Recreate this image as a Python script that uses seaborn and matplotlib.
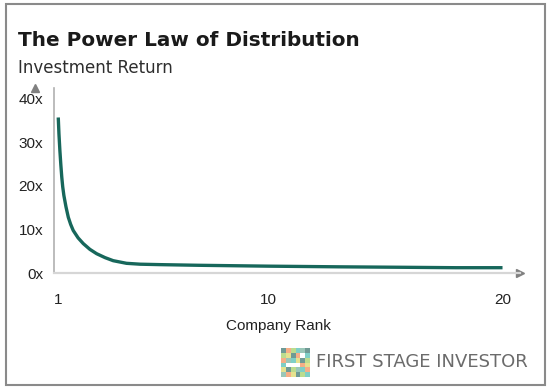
"""
The Power Law of Distribution: investment return by company rank.
"""

import numpy as np
import pandas as pd
import matplotlib
matplotlib.use("Agg")
import matplotlib.pyplot as plt
from matplotlib.patches import Rectangle
import seaborn as sns

# ═══════════════════════════════════════════════════════════════════════
# Data
# ═══════════════════════════════════════════════════════════════════════

company_rank = [1.0, 1.03, 1.07, 1.11, 1.15, 1.19, 1.24, 1.33, 1.43, 1.53, 1.64,
                1.85, 2.07, 2.35, 2.64, 3.0, 3.35, 3.92, 4.5, 5.35, 7.0, 10.0,
                13.0, 15.6, 18.0, 20.0]
investment_return = [35.6, 31.8, 28.0, 24.8, 22.0, 19.8, 17.8, 15.2, 12.8, 11.2, 9.8,
                     8.1, 6.8, 5.5, 4.5, 3.6, 2.9, 2.3, 2.1, 2.0, 1.85, 1.65,
                     1.5, 1.4, 1.3, 1.3]

x_ticks = [1, 10, 20]
y_ticks = [0, 10, 20, 30, 40]
y_tick_labels = ["0x", "10x", "20x", "30x", "40x"]

TITLE = "The Power Law of Distribution"
SUBTITLE = "Investment Return"
X_LABEL = "Company Rank"
BRAND = "FIRST STAGE INVESTOR"

# logo mosaic: 0 = blank, other numbers index LOGO_COLORS
logo_grid = [
    [1, 2, 3, 4, 5, 1],
    [3, 6, 1, 2, 0, 4],
    [2, 5, 4, 6, 1, 3],
    [4, 0, 0, 0, 2, 6],
    [6, 1, 3, 5, 4, 2],
    [5, 2, 6, 1, 3, 4],
]
LOGO_COLORS = ["#ffffff", "#6f9a95", "#f6ae86", "#bcdc8e", "#7fcfc6", "#9ac7b8", "#e6e28f"]

LINE_COLOR = "#17675b"
TEXT_FONT = ["Liberation Sans Narrow", "Liberation Sans", "DejaVu Sans"]

# ═══════════════════════════════════════════════════════════════════════
# Plot
# ═══════════════════════════════════════════════════════════════════════

sns.set_style("white")
plt.rcParams["font.family"] = TEXT_FONT

df = pd.DataFrame({"rank": company_rank, "ret": investment_return})

fig = plt.figure(figsize=(5.5, 3.9), dpi=100)
ax = fig.add_axes([0.0987, 0.299, 0.846, 0.475])

sns.lineplot(data=df, x="rank", y="ret", ax=ax, color=LINE_COLOR,
             linewidth=2.4, solid_capstyle="butt", solid_joinstyle="round")

ax.set_xlim(0.83, 20.73)
ax.set_ylim(0, 42.3)
ax.set_xticks(x_ticks)
ax.set_yticks(y_ticks)
ax.set_yticklabels(y_tick_labels)
ax.tick_params(axis="both", length=0, labelsize=11, colors="#222222")
ax.tick_params(axis="y", pad=8)
ax.tick_params(axis="x", pad=14)
ax.set_xlabel(X_LABEL, fontsize=11, color="#222222")
ax.xaxis.set_label_coords(0.481, -0.245)
ax.set_ylabel("")

for side in ["top", "right"]:
    ax.spines[side].set_visible(False)
ax.spines["left"].set_color("#b0b0b0")
ax.spines["bottom"].set_color("#d6d6d6")
ax.spines["left"].set_linewidth(1.2)
ax.spines["bottom"].set_linewidth(1.6)

# arrow heads at the ends of both axes
ax.plot(1, 0, ">", color="#808080", markersize=6, clip_on=False,
        transform=ax.get_yaxis_transform())
ax.plot(0, 1, "^", color="#808080", markersize=6, clip_on=False,
        transform=ax.get_xaxis_transform())

# titles
fig.text(0.033, 0.897, TITLE, fontsize=14.4, fontweight="bold",
         family=["DejaVu Sans"], color="#1a1a1a", va="center")
fig.text(0.033, 0.825, SUBTITLE, fontsize=12, family=["DejaVu Sans"],
         color="#2e2e2e", va="center")

# brand logo mosaic
logo_ax = fig.add_axes([281 / 550, 1 - 377 / 390, 29 / 550, 29 / 390])
n = len(logo_grid)
for r, row in enumerate(logo_grid):
    for c, idx in enumerate(row):
        logo_ax.add_patch(Rectangle((c, n - 1 - r), 1, 1,
                                    color=LOGO_COLORS[idx], lw=0))
logo_ax.set_xlim(0, n)
logo_ax.set_ylim(0, n)
logo_ax.axis("off")

fig.text(316 / 550, 1 - 362 / 390, BRAND, fontsize=13, family=["DejaVu Sans"],
         color="#6b6b6b", va="center")

# outer frame
fig.patches.append(Rectangle((5.5 / 550, 5 / 390), 539 / 550, 381 / 390,
                             transform=fig.transFigure, fill=False,
                             edgecolor="#8a8a8a", linewidth=1.5))

fig.savefig("out.png", dpi=100)
